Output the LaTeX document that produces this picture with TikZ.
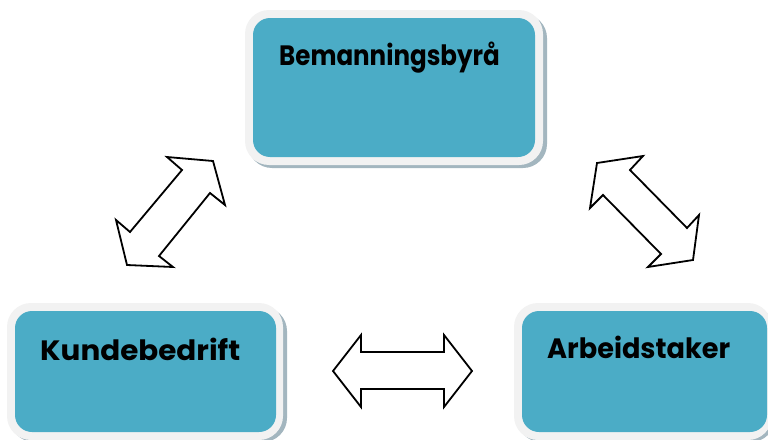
\documentclass[tikz,border=0pt]{standalone}
\usepackage{fontspec}
\setmainfont{Poppins}
\definecolor{teal}{HTML}{4BACC6}
\definecolor{frame}{HTML}{F2F2F2}
\definecolor{shade}{HTML}{A3B6BF}
\tikzset{
  shadowbox/.style={fill=shade, rounded corners=24pt},
  framebox/.style={fill=frame, rounded corners=24pt},
  innerbox/.style={fill=teal, rounded corners=17pt},
  label/.style={anchor=base west, inner sep=0pt, font=\bfseries\fontsize{28}{32}\selectfont, text=black},
  blockarrow/.style={draw=black, line width=1.8pt, fill=white, line join=miter}
}
\begin{document}
\begin{tikzpicture}[x=1pt,y=-1pt]
\useasboundingbox (0,0) rectangle (768,439);
% top box
\fill[shadowbox] (248,14) rectangle (547,168);
\fill[framebox] (245,10) rectangle (543,165);
\fill[innerbox] (253,18) rectangle (535,157);
\node[label] (bem) at (279,65) {\scalebox{0.877}[1]{Bemanningsbyrå}};
% left box
\fill[shadowbox] (10,307) rectangle (287,442);
\fill[framebox] (7,303) rectangle (283,440);
\fill[innerbox] (15,311) rectangle (276,432);
\node[label] (kun) at (40,360) {\scalebox{1.05}[1]{Kundebedrift}};
% right box
\fill[shadowbox] (517,307) rectangle (775,442);
\fill[framebox] (514,303) rectangle (772,440);
\fill[innerbox] (522,311) rectangle (767,432);
\node[label] (arb) at (547,358) {\scalebox{0.97}[1]{Arbeidstaker}};
% left diagonal arrow
\draw[blockarrow] (213,161) -- (167,157) -- (182,170) -- (130,232) -- (116,220) -- (127,265) -- (173,267) -- (159,256) -- (210,193) -- (225,205) -- cycle;
% right diagonal arrow
\draw[blockarrow] (597,163) -- (643,156) -- (630,170) -- (687,228) -- (699,215) -- (693,260) -- (648,267) -- (661,254) -- (603,195) -- (590,208) -- cycle;
% horizontal arrow
\draw[blockarrow] (333,371) -- (361,335) -- (361,352) -- (444,352) -- (444,335) -- (472,371) -- (444,407) -- (444,389) -- (361,389) -- (361,407) -- cycle;
\end{tikzpicture}
\end{document}
